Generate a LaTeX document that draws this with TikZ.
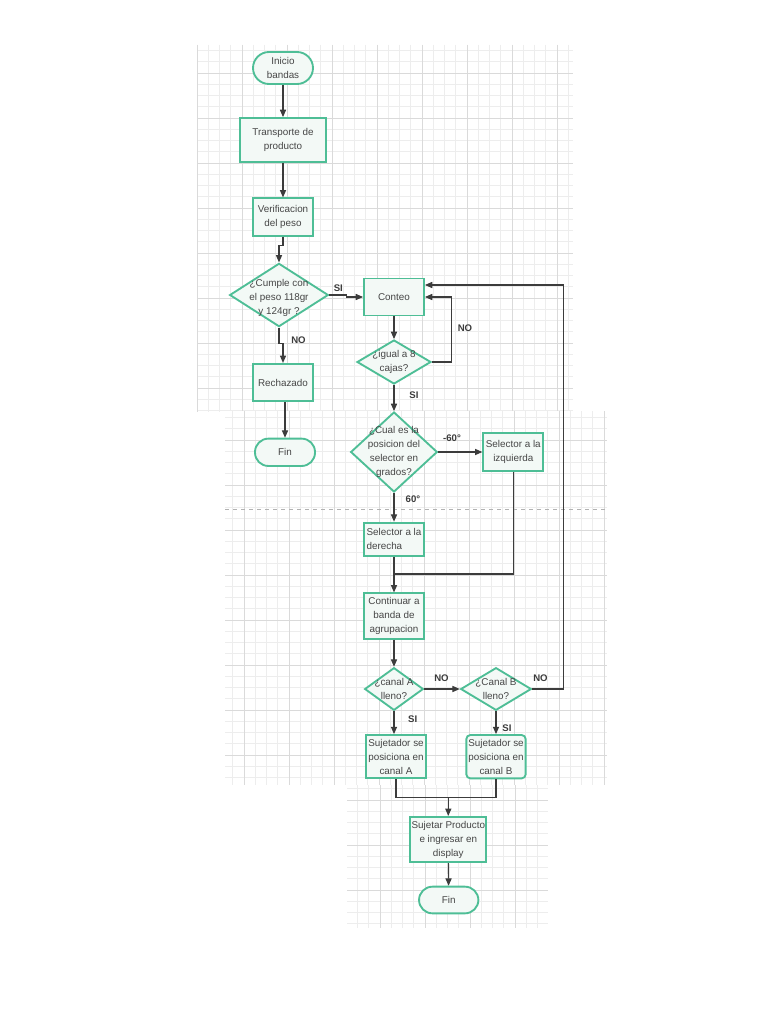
\documentclass[tikz,border=0pt]{standalone}
\usepackage{fontspec}
\setmainfont{Liberation Sans}
\usetikzlibrary{shapes.geometric,arrows.meta,calc}
\definecolor{gbord}{RGB}{78,190,150}
\definecolor{gfill}{RGB}{243,249,246}
\definecolor{ink}{RGB}{60,60,60}
\definecolor{txtc}{RGB}{70,70,70}
\definecolor{gmin}{RGB}{237,237,237}
\definecolor{gmaj}{RGB}{218,218,218}
\begin{document}
\begin{tikzpicture}[x=0.75pt,y=-0.75pt,
  box/.style={draw=gbord,fill=gfill,line width=1.4pt,inner sep=1pt,
    font=\fontsize{7.4}{10.5}\selectfont,text=txtc,align=center},
  term/.style={box},
  dmd/.style={draw=gbord,fill=gfill,line width=1.4pt,diamond,inner sep=0pt},
  dtxt/.style={font=\fontsize{7.4}{10.5}\selectfont,text=txtc,align=center,inner sep=0pt},
  arr/.style={draw=ink,line width=0.8pt,-{Triangle[length=5.5pt,width=4.6pt]}},
  ln/.style={draw=ink,line width=0.8pt},
  lab/.style={font=\fontsize{7.2}{8}\selectfont\bfseries,text=ink,inner sep=0pt},
  gminor/.style={draw=gmin,line width=0.5pt},
  gmajor/.style={draw=gmaj,line width=0.6pt}]
\fill[white] (0,0) rectangle (768,1024);
\useasboundingbox (0,0) rectangle (768,1024);
% grid panel 1
\foreach \x in {197,208.25,...,573} \draw[gminor] (\x,45) -- (\x,412);
\foreach \y in {50.5,61.75,...,412} \draw[gminor] (197,\y) -- (573,\y);
\foreach \x in {197,242,...,573} \draw[gmajor] (\x,45) -- (\x,412);
\foreach \y in {73,118,...,412} \draw[gmajor] (197,\y) -- (573,\y);
% grid panel 2
\fill[white] (225,411) rectangle (607,785);
\foreach \x in {232.75,244,...,606} \draw[gminor] (\x,411) -- (\x,785);
\foreach \y in {417.5,428.75,...,785} \draw[gminor] (225,\y) -- (607,\y);
\foreach \x in {244,289,...,606} \draw[gmajor] (\x,411) -- (\x,785);
\foreach \y in {440,485,...,785} \draw[gmajor] (225,\y) -- (607,\y);
\draw[draw=gray!60,line width=0.6pt,dashed] (225,509.5) -- (607,509.5);
% grid panel 3
\foreach \x in {357.5,368.75,...,548} \draw[gminor] (\x,785) -- (\x,928);
\foreach \y in {788.75,800,...,928} \draw[gminor] (347,\y) -- (548,\y);
\foreach \x in {380,425,...,548} \draw[gmajor] (\x,785) -- (\x,928);
\foreach \y in {800,845,...,928} \draw[gmajor] (347,\y) -- (548,\y);

% nodes
\node[term,minimum width=45pt,minimum height=24pt,rounded corners=12pt] (ini) at (283,68) {Inicio\\bandas};
\node[box,minimum width=64pt,minimum height=33pt] (tra) at (283,140) {Transporte de\\producto};
\node[box,minimum width=45pt,minimum height=28pt] (ver) at (283,217) {Verificacion\\del peso};
\node[dmd,minimum width=74pt,minimum height=47.5pt] (cum) at (279,295) {};
\node[dtxt] (cumt) at (279,298) {¿Cumple con\\el peso 118gr\\y 124gr ?};
\node[box,minimum width=45pt,minimum height=27.75pt] (con) at (394,297) {Conteo};
\node[dmd,minimum width=55.5pt,minimum height=33pt] (igu) at (394,362) {};
\node[dtxt] (igut) at (394,362) {¿igual a 8\\cajas?};
\node[box,minimum width=45pt,minimum height=28pt] (rec) at (283,382.5) {Rechazado};
\node[term,minimum width=45pt,minimum height=20.5pt,rounded corners=10pt] (fin1) at (285,452.3) {Fin};
\node[dmd,minimum width=65pt,minimum height=60pt] (cua) at (394,452) {};
\node[dtxt] (cuat) at (394,452) {¿Cual es la\\posicion del\\selector en\\grados?};
\node[box,minimum width=45pt,minimum height=28.5pt] (siz) at (513.3,452) {Selector a la\\izquierda};
\node[box,minimum width=45pt,minimum height=25pt,align=left] (sder) at (394,539.3) {Selector a la\\derecha};
\node[box,minimum width=45pt,minimum height=34pt] (cont) at (394,616) {Continuar a\\banda de\\agrupacion};
\node[dmd,minimum width=44pt,minimum height=32pt] (cana) at (394,689) {};
\node[dtxt] (canat) at (394,689) {¿canal A\\lleno?};
\node[dmd,minimum width=53pt,minimum height=32pt] (canb) at (496,689) {};
\node[dtxt] (canbt) at (496,689) {¿Canal B\\lleno?};
\node[box,minimum width=45pt,minimum height=32.5pt] (suja) at (396,756.7) {Sujetador se\\posiciona en\\canal A};
\node[box,minimum width=44.5pt,minimum height=32.5pt,rounded corners=3pt] (sujb) at (496,756.7) {Sujetador se\\posiciona en\\canal B};
\node[box,minimum width=56pt,minimum height=34pt] (suj) at (448.3,839.5) {Sujetar Producto\\e ingresar en\\display};
\node[term,minimum width=44.5pt,minimum height=20pt,rounded corners=10pt] (fin2) at (448.7,900) {Fin};

% connectors
\draw[arr] (ini) -- (tra);
\draw[arr] (tra) -- (ver);
\draw[arr] (ver.south) -- ++(0,9) -| (cum.north);
\draw[arr] (cum.east) -- ++(17,0) |- (con.west);
\draw[arr] (cum.south) -- ++(0,16) -| (rec.north);
\draw[arr] (rec.south -| fin1.north) -- (fin1.north);
\draw[arr] (con) -- (igu);
\draw[arr] (igu.east) -- ++(20,0) |- (con.east);
\draw[arr] (canb.east) -- ++(31,0) |- ([yshift=9pt]con.east);
\draw[arr] (igu) -- (cua);
\draw[arr] (cua.east) -- (siz.west);
\draw[arr] (cua) -- (sder);
\coordinate (j1) at (394,574);
\draw[ln] (siz.south) |- (j1);
\draw[arr] (sder) -- (cont);
\draw[arr] (cont) -- (cana);
\draw[arr] (cana) -- (canb);
\draw[arr] (cana.south) -- (cana.south |- suja.north);
\draw[arr] (canb) -- (sujb);
\coordinate (j2) at (448.3,797.5);
\draw[ln] (suja.south) |- (j2);
\draw[ln] (sujb.south) |- (j2);
\draw[arr] (j2) -- (suj);
\draw[arr] (suj) -- (fin2);

% labels
\node[lab] (l1) at (338.3,288.3) {SI};
\node[lab] (l2) at (298.5,340) {NO};
\node[lab] (l3) at (465,328) {NO};
\node[lab] (l4) at (414,395) {SI};
\node[lab] (l5) at (452,438.3) {-60°};
\node[lab] (l6) at (413,499.5) {60°};
\node[lab] (l7) at (441.5,678) {NO};
\node[lab] (l8) at (540.5,678) {NO};
\node[lab] (l9) at (412.7,719.5) {SI};
\node[lab] (l10) at (507,728) {SI};
\end{tikzpicture}
\end{document}
